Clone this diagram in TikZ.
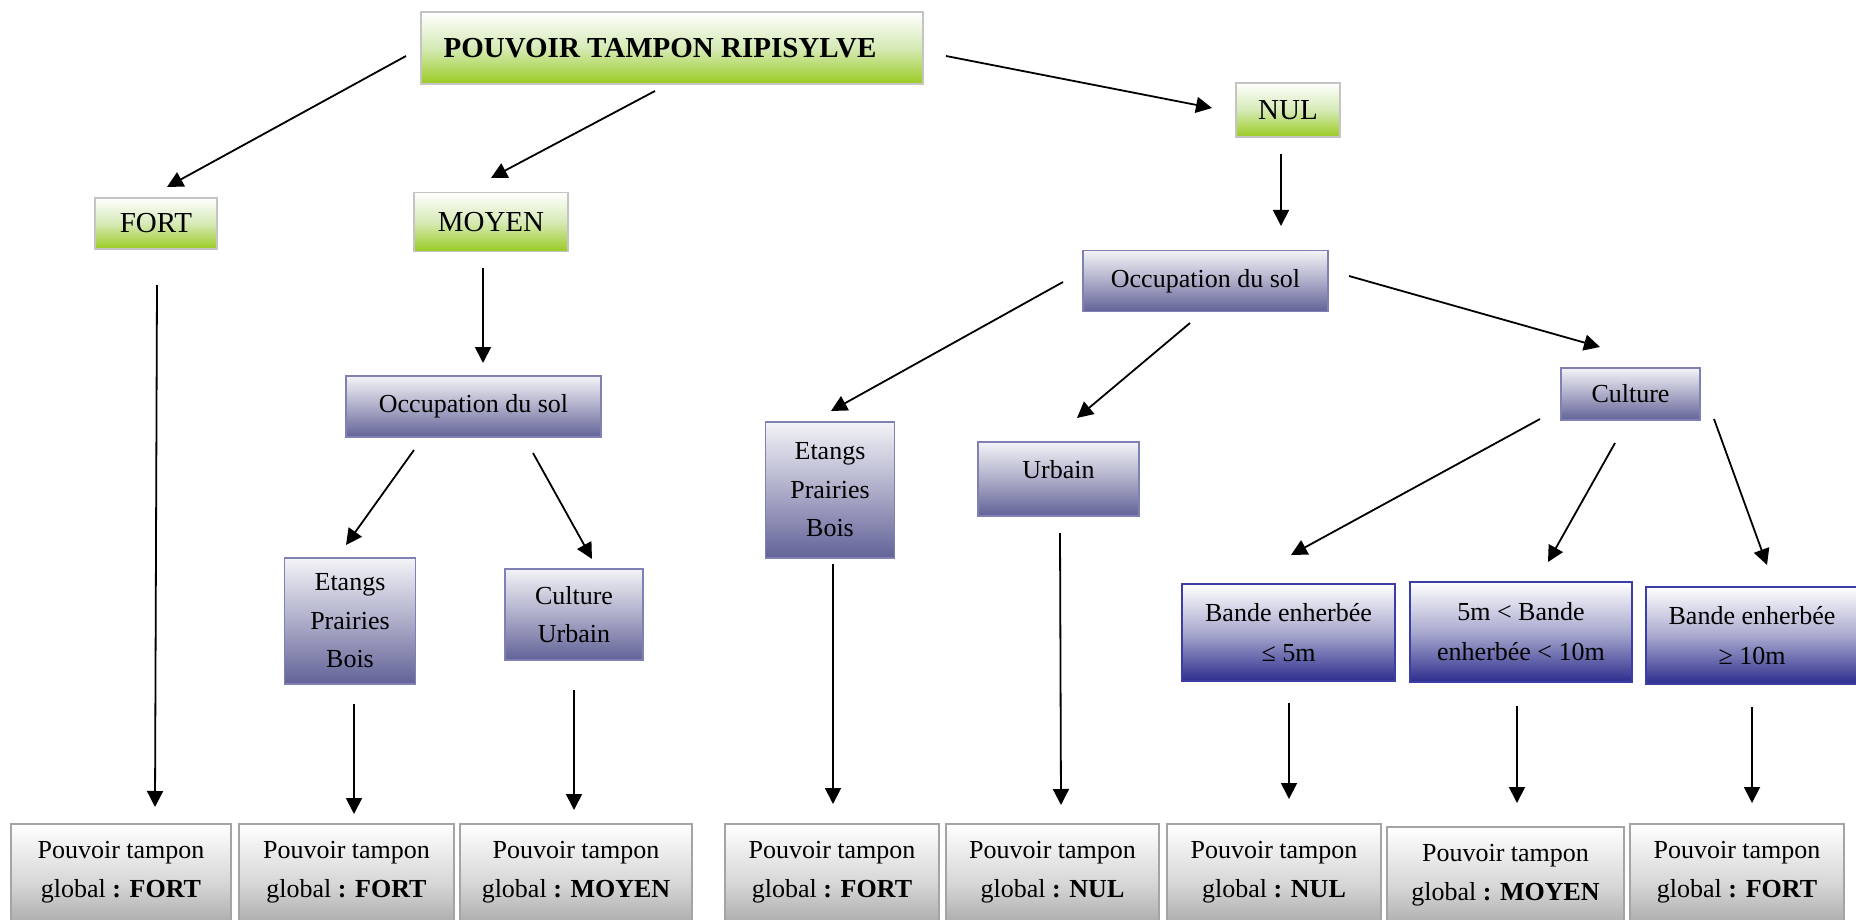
\documentclass[tikz,border=0pt]{standalone}
\usepackage{fontspec}
\setmainfont{Liberation Serif}
\usetikzlibrary{arrows.meta,calc}
\definecolor{grnB}{HTML}{9ACB22}
\definecolor{grnM}{HTML}{D6EAB6}
\definecolor{grnBorder}{HTML}{C4C4C4}
\definecolor{purT}{HTML}{F3F3F7}
\definecolor{purM}{HTML}{ADADC9}
\definecolor{purB}{HTML}{626298}
\definecolor{purBorder}{HTML}{8080B4}
\definecolor{bluM}{HTML}{A9A9CF}
\definecolor{bluB}{HTML}{2D2D8E}
\definecolor{bluBorder}{HTML}{3D3DA6}
\definecolor{gryM}{HTML}{D6D6D6}
\definecolor{gryB}{HTML}{969696}
\definecolor{gryBorder}{HTML}{A4A4A4}
\tikzset{
  nbox/.style={rectangle, inner sep=0pt, outer sep=0pt, align=center, line width=1.8pt,
    font=\fontsize{26}{38.5}\selectfont},
  dims/.style 2 args={minimum width=#1pt, minimum height=#2pt},
  grbox/.style={nbox, draw=grnBorder, top color=white, bottom color=grnB, middle color=grnM,
    font=\fontsize{29}{34}\selectfont},
  prbox/.style={nbox, draw=purBorder, top color=purT, bottom color=purB, middle color=purM},
  blbox/.style={nbox, draw=bluBorder, top color=white, bottom color=bluB, middle color=bluM,
    font=\fontsize{26}{40}\selectfont},
  gybox/.style={nbox, draw=gryBorder, top color=white, bottom color=gryB, middle color=gryM,
    minimum height=120pt},
  botlbl/.style={inner sep=0pt, outer sep=0pt, align=center, font=\fontsize{26}{39}\selectfont},
  arr/.style={-{Triangle[length=16pt,width=16pt]}, line width=1.8pt}
}
\begin{document}
\begin{tikzpicture}[x=1pt,y=-1pt]
\useasboundingbox (0,0) rectangle (1856,920);
\clip (0,0) rectangle (1856,920);
% top level
\node[grbox, dims={502}{72}, font=\fontsize{29}{34}\selectfont\bfseries] (title) at (672,48) {POUVOIR TAMPON RIPISYLVE\hspace*{24pt}};
\node[grbox, dims={104}{54}] (nul) at (1288,110) {NUL};
\node[grbox, dims={122}{51}] (fort) at (156,223.5) {FORT};
\node[grbox, dims={154}{59}] (moyen) at (491,222) {MOYEN};
% purple
\node[prbox, dims={245}{61}] (occR) at (1205.5,281) {Occupation du sol};
\node[prbox, dims={255}{61}] (occL) at (473.5,406.5) {Occupation du sol};
\node[prbox, dims={139}{52}] (cultR) at (1630.5,394) {Culture};
\node[prbox, dims={129}{136}] (etM) at (830,490) {Etangs\\Prairies\\Bois};
\node[prbox, dims={161}{74}, text depth=20pt] (urb) at (1058.5,479) {Urbain};
\node[prbox, dims={131}{126}] (etL) at (350,621) {Etangs\\Prairies\\Bois};
\node[prbox, dims={138}{91}] (cuU) at (574,614.5) {Culture\\Urbain};
% blue
\node[blbox, dims={213}{97}] (ba1) at (1288.5,632.5) {Bande enherbée\\≤ 5m};
\node[blbox, dims={222}{100}] (ba2) at (1521,632) {5m < Bande\\enherbée < 10m};
\node[blbox, dims={212}{97}] (ba3) at (1752,635.5) {Bande enherbée\\≥ 10m};
% bottom boxes
\node[gybox, minimum width=220pt] (b1) at (121,884) {};
\node[gybox, minimum width=215pt] (b2) at (346.5,884) {};
\node[gybox, minimum width=232pt] (b3) at (576,884) {};
\node[gybox, minimum width=214pt] (b4) at (832,884) {};
\node[gybox, minimum width=213pt] (b5) at (1052.5,884) {};
\node[gybox, minimum width=214pt] (b6) at (1274,884) {};
\node[gybox, minimum width=237pt] (b7) at (1505.5,887) {};
\node[gybox, minimum width=214pt] (b8) at (1737,884) {};
\node[botlbl] (t1) at (121,872.5) {Pouvoir tampon\\global \textbf{: FORT}};
\node[botlbl] (t2) at (346.5,872.5) {Pouvoir tampon\\global \textbf{: FORT}};
\node[botlbl] (t3) at (576,872.5) {Pouvoir tampon\\global \textbf{: MOYEN}};
\node[botlbl] (t4) at (832,872.5) {Pouvoir tampon\\global \textbf{: FORT}};
\node[botlbl] (t5) at (1052.5,872.5) {Pouvoir tampon\\global \textbf{: NUL}};
\node[botlbl] (t6) at (1274,872.5) {Pouvoir tampon\\global \textbf{: NUL}};
\node[botlbl] (t7) at (1505.5,875.5) {Pouvoir tampon\\global \textbf{: MOYEN}};
\node[botlbl] (t8) at (1737,872.5) {Pouvoir tampon\\global \textbf{: FORT}};
% arrows
\draw[arr] ($(title.west)+(-15,8)$) -- ($(fort.north)+(11,-11)$);
\draw[arr] ($(title.south)+(-17,7)$) -- ($(moyen.north)+(0,-14.5)$);
\draw[arr] ($(title.east)+(23,8)$) -- ($(nul.west)+(-24,-2)$);
\draw[arr] ($(fort.south)+(1,36)$) -- ($(b1.north)+(34,-17)$);
\draw[arr] ($(moyen.south)+(-8,16.5)$) -- ($(occL.north)+(9.5,-13)$);
\draw[arr] ($(occL.south)+(-59.5,13)$) -- ($(etL.north)+(-4,-13)$);
\draw[arr] ($(occL.south)+(59.5,16)$) -- ($(cuU.north)+(18,-10)$);
\draw[arr] ($(etL.south)+(4,20)$) -- ($(b2.north)+(7.5,-10)$);
\draw[arr] ($(cuU.south)+(0,30)$) -- ($(b3.north)+(-2,-14)$);
\draw[arr] ($(nul.south)+(-7,17)$) -- ($(occR.north)+(75.5,-24.5)$);
\draw[arr] ($(occR.west)+(-20,1)$) -- ($(etM.north)+(1,-11)$);
\draw[arr] ($(occR.south)+(-15.5,11.5)$) -- ($(urb.north)+(18.5,-24)$);
\draw[arr] ($(occR.east)+(21,-5)$) -- ($(cultR.north)+(-30.5,-21)$);
\draw[arr] ($(etM.south)+(3,6)$) -- ($(b4.north)+(1,-20)$);
\draw[arr] ($(urb.south)+(1.5,17)$) -- ($(b5.north)+(8.5,-19)$);
\draw[arr] ($(cultR.south west)+(-21,-1)$) -- ($(ba1.north)+(2.5,-29)$);
\draw[arr] ($(cultR.south)+(-15.5,23)$) -- ($(ba2.north)+(27,-20)$);
\draw[arr] ($(cultR.south east)+(14,-1)$) -- ($(ba3.north)+(15,-22)$);
\draw[arr] ($(ba1.south)+(0.5,22)$) -- ($(b6.north)+(15,-25)$);
\draw[arr] ($(ba2.south)+(-4,24)$) -- ($(b7.north)+(11.5,-24)$);
\draw[arr] ($(ba3.south)+(0,23)$) -- ($(b8.north)+(15,-21)$);
\end{tikzpicture}
\end{document}
